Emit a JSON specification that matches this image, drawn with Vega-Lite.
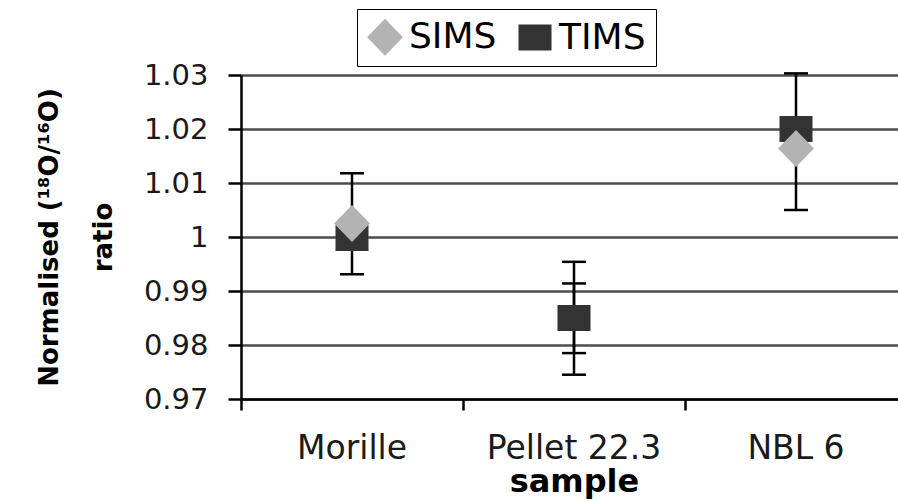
{
  "$schema": "https://vega.github.io/schema/vega-lite/v6.json",
  "width": 657,
  "height": 324,
  "autosize": {"type": "none"},
  "padding": {"left": 241, "top": 75, "right": 0, "bottom": 102},
  "background": "white",
  "config": {
    "view": {"stroke": null},
    "font": "DejaVu Sans"
  },
  "datasets": {
    "points": [
      {"sample": "Morille", "method": "TIMS", "ratio": 0.9998},
      {"sample": "Pellet 22.3", "method": "TIMS", "ratio": 0.985},
      {"sample": "NBL 6", "method": "TIMS", "ratio": 1.02},
      {"sample": "Morille", "method": "SIMS", "ratio": 1.0025},
      {"sample": "NBL 6", "method": "SIMS", "ratio": 1.0164}
    ],
    "errors": [
      {"sample": "Morille", "lo": 0.9931, "hi": 1.0118},
      {"sample": "Pellet 22.3", "lo": 0.9745, "hi": 0.9954},
      {"sample": "Pellet 22.3", "lo": 0.9785, "hi": 0.9914},
      {"sample": "NBL 6", "lo": 1.005, "hi": 1.0303}
    ]
  },
  "encoding": {
    "x": {
      "field": "sample",
      "type": "nominal",
      "sort": ["Morille", "Pellet 22.3", "NBL 6"],
      "scale": {"type": "band", "domain": ["Morille", "Pellet 22.3", "NBL 6"], "range": [0, 666], "paddingInner": 0, "paddingOuter": 0},
      "axis": {
        "title": "sample",
        "titleFont": "DejaVu Sans",
        "titleFontWeight": "bold",
        "titleFontSize": 32,
        "titleColor": "black",
        "titlePadding": 1,
        "labelAngle": 0,
        "labelFont": "DejaVu Sans",
        "labelFontSize": 33,
        "labelColor": "#1a1a1a",
        "labelPadding": 22,
        "bandPosition": 0,
        "domain": true,
        "domainColor": "black",
        "domainWidth": 2.5,
        "ticks": true,
        "tickColor": "black",
        "tickWidth": 2.5,
        "tickSize": 11,
        "grid": false
      }
    }
  },
  "layer": [
    {
      "data": {"name": "errors"},
      "mark": {"type": "rule", "color": "black", "strokeWidth": 2.5},
      "encoding": {
        "y": {
          "field": "lo",
          "type": "quantitative",
          "scale": {"domain": [0.97, 1.03], "nice": false, "zero": false},
          "axis": {
            "title": ["Normalised (¹⁸O/¹⁶O)", "ratio"],
            "titleFont": "DejaVu Sans",
            "titleFontWeight": "bold",
            "titleFontSize": 26,
            "titleColor": "black",
            "titleLineHeight": 54,
            "titlePadding": 27,
            "values": [0.97, 0.98, 0.99, 1.0, 1.01, 1.02, 1.03],
            "format": ".2~f",
            "labelFont": "DejaVu Sans",
            "labelFontSize": 29,
            "labelColor": "#1a1a1a",
            "labelPadding": 20,
            "domain": true,
            "domainColor": "black",
            "domainWidth": 2.5,
            "ticks": true,
            "tickColor": "black",
            "tickWidth": 2.5,
            "tickSize": 13,
            "grid": true,
            "gridColor": "#4d4d4d",
            "gridWidth": 2.5
          }
        },
        "y2": {"field": "hi"}
      }
    },
    {
      "data": {"name": "errors"},
      "mark": {"type": "tick", "color": "black", "size": 24, "thickness": 2.5, "opacity": 1},
      "encoding": {"y": {"field": "lo", "type": "quantitative"}}
    },
    {
      "data": {"name": "errors"},
      "mark": {"type": "tick", "color": "black", "size": 24, "thickness": 2.5, "opacity": 1},
      "encoding": {"y": {"field": "hi", "type": "quantitative"}}
    },
    {
      "data": {"name": "points"},
      "mark": {"type": "point", "filled": true, "opacity": 1, "size": 676, "strokeWidth": 0},
      "encoding": {
        "y": {"field": "ratio", "type": "quantitative"},
        "color": {
          "field": "method",
          "type": "nominal",
          "scale": {"domain": ["SIMS", "TIMS"], "range": ["#b3b3b3", "#333333"]},
          "legend": {
            "title": null,
            "orient": "none",
            "legendX": 116,
            "legendY": -66,
            "direction": "horizontal",
            "strokeColor": "black",
            "padding": 10,
            "labelFont": "DejaVu Sans",
            "labelFontSize": 36,
            "labelColor": "black",
            "labelOffset": 6,
            "columnPadding": 20,
            "symbolSize": 676,
            "symbolStrokeWidth": 0,
            "encode": {
              "legend": {"update": {"strokeWidth": {"value": 2}}},
              "symbols": {
                "update": {
                  "shape": {"signal": "datum.value === 'TIMS' ? 'M-1.15,-0.6H1.15V0.6H-1.15Z' : 'M-1.27,0L0,-1.42L1.27,0L0,1.42Z'"}
                }
              }
            }
          }
        },
        "shape": {
          "field": "method",
          "type": "nominal",
          "scale": {"domain": ["SIMS", "TIMS"], "range": ["M-1.38,0L0,-1.42L1.38,0L0,1.42Z", "M-1.27,-1H1.27V1H-1.27Z"]},
          "legend": null
        }
      }
    }
  ]
}
